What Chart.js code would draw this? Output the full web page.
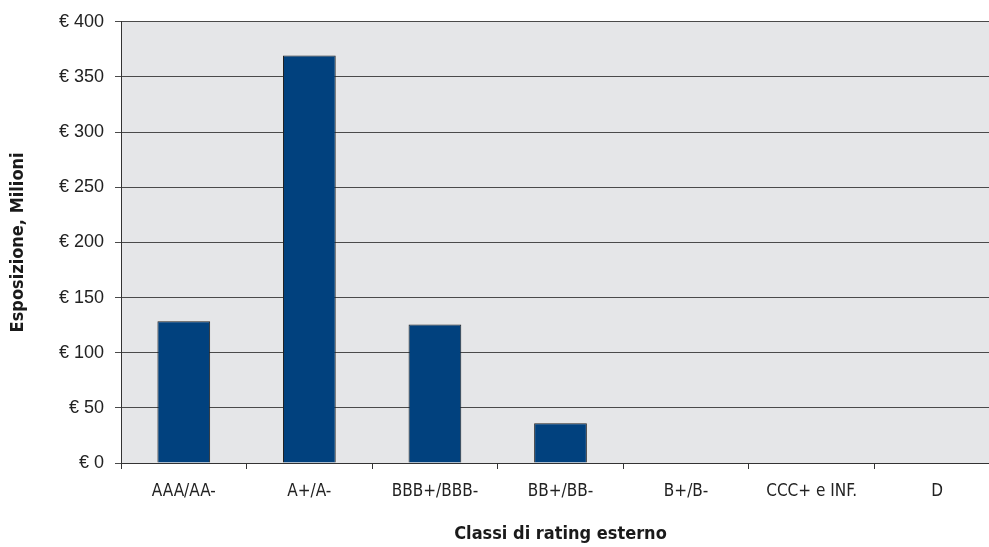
<!DOCTYPE html>
<html>
<head>
<meta charset="utf-8">
<script src="https://cdn.jsdelivr.net/npm/chart.js@4.4.1/dist/chart.umd.min.js"></script>
<style>
  html, body { margin: 0; padding: 0; background: #fff; overflow: hidden; }
  #wrap { width: 1000px; height: 547px; }
</style>
</head>
<body>
<div id="wrap"><canvas id="ratingChart" width="1000" height="547"></canvas></div>
<script>
// Exposure by external rating class (EUR millions)
const ratingClasses = ['AAA/AA-', 'A+/A-', 'BBB+/BBB-', 'BB+/BB-', 'B+/B-', 'CCC+ e INF.', 'D'];
const exposure = [128.5, 369.5, 125.5, 36, 0, 0, 0];
const yTicks = [0, 50, 100, 150, 200, 250, 300, 350, 400];

const narrow = '"Liberation Sans Narrow", "DejaVu Sans Condensed", Arial, sans-serif';

// grey plot background
const plotBackground = {
    id: 'plotBackground',
    beforeDraw(chart) {
        const { ctx, chartArea } = chart;
        ctx.save();
        ctx.fillStyle = '#e5e6e8';
        ctx.fillRect(chartArea.left, chartArea.top, chartArea.right - chartArea.left, chartArea.bottom - chartArea.top);
        ctx.restore();
    }
};

const ctx = document.getElementById('ratingChart').getContext('2d');
new Chart(ctx, {
    type: 'bar',
    data: {
        labels: ratingClasses,
        datasets: [{
            data: exposure,
            backgroundColor: '#01417e',
            borderColor: '#222',
            borderWidth: 1,
            categoryPercentage: 1,
            barPercentage: 0.42
        }]
    },
    options: {
        responsive: false,
        animation: false,
        layout: { padding: { top: 12, right: 0, left: 0, bottom: 0 } },
        plugins: {
            legend: { display: false },
            tooltip: { enabled: false }
        },
        scales: {
            x: {
                grid: {
                    offset: true,
                    drawOnChartArea: false,
                    drawTicks: true,
                    tickLength: 6,
                    color: '#333'
                },
                border: { color: '#333', width: 1 },
                ticks: {
                    color: '#222',
                    padding: 12,
                    maxRotation: 0,
                    font: { family: narrow, size: 17 }
                },
                title: {
                    display: true,
                    text: 'Classi di rating esterno',
                    color: '#1a1a1a',
                    padding: { top: 0, bottom: 2 },
                    font: { family: narrow, size: 18, weight: 'bold' }
                },
                afterFit(scale) { scale.height = 84; }
            },
            y: {
                min: 0,
                max: 400,
                afterBuildTicks(scale) {
                    scale.ticks = yTicks.map(v => ({ value: v }));
                },
                grid: {
                    color: '#4a4a4a',
                    lineWidth: 1,
                    tickLength: 6
                },
                border: { color: '#333', width: 1 },
                ticks: {
                    color: '#222',
                    padding: 11,
                    font: { family: '"Liberation Sans", Arial, sans-serif', size: 18 },
                    callback: v => '€ ' + v
                },
                title: {
                    display: true,
                    text: 'Esposizione, Milioni',
                    color: '#1a1a1a',
                    padding: { top: 8, bottom: 0 },
                    font: { family: narrow, size: 18, weight: 'bold' }
                },
                afterFit(scale) { scale.width = 121; }
            }
        }
    },
    plugins: [plotBackground]
});
</script>
</body>
</html>
